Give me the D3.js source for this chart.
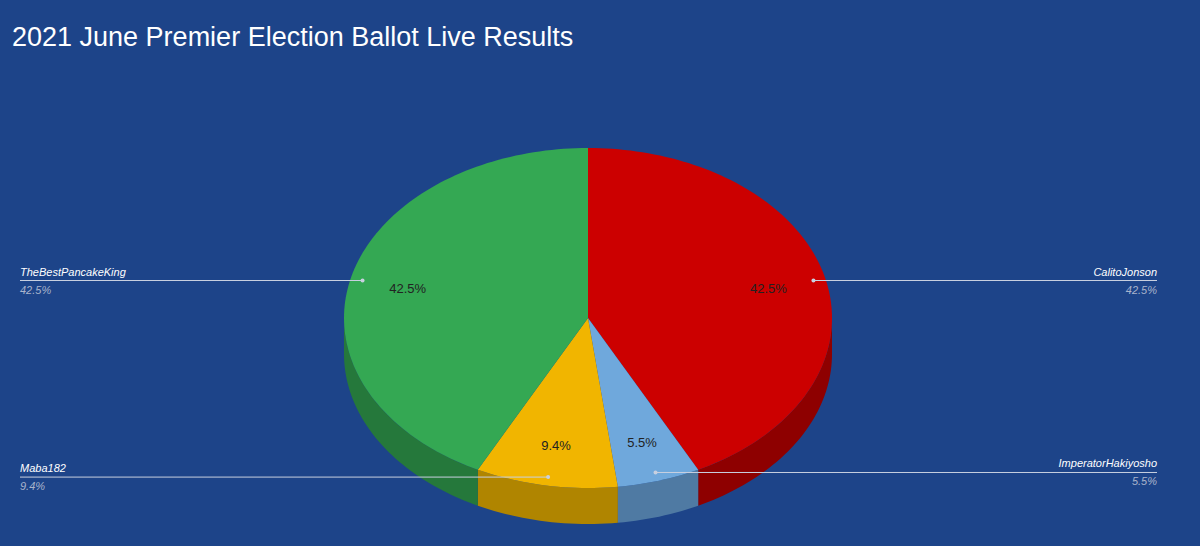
<!DOCTYPE html>
<html><head><meta charset="utf-8">
<script src="https://cdn.jsdelivr.net/npm/d3@7"></script>
<style>body{margin:0;background:#1d4489;}</style>
</head><body>
<svg width="1200" height="546"></svg>
<script>
var names = ["CalitoJonson", "ImperatorHakiyosho", "Maba182", "TheBestPancakeKing"];
var shares = [42.5, 5.5, 9.4, 42.5];
var topColors = ["#cc0000", "#6fa8dc", "#f1b500", "#34a853"];
var sideColors = ["#8e0000", "#4f7aa3", "#b08500", "#25783b"];
var labelSide = ["right", "right", "left", "left"];

var svg = d3.select("svg");
svg.append("rect").attr("width", 1200).attr("height", 546).attr("fill", "#1d4489");
svg.append("text").attr("x", 12).attr("y", 46).attr("fill", "#fff")
  .attr("font-family", "Liberation Sans, Arial").attr("font-size", 27)
  .text("2021 June Premier Election Ballot Live Results");

var cx = 588, cy = 318, rx = 244, ry = 170, depth = 36;
var pt = function(a, k, dy) {
  k = k || 1; dy = dy || 0;
  return [cx + rx * k * Math.sin(a), cy - ry * k * Math.cos(a) + dy];
};
var arcs = d3.pie().sort(null)(shares);

function arcPts(a0, a1, dy) {
  var n = Math.max(2, Math.ceil((a1 - a0) * 40)), out = [];
  for (var i = 0; i <= n; i++) out.push(pt(a0 + (a1 - a0) * i / n, 1, dy));
  return out;
}

// side walls (front half only)
arcs.forEach(function(d, i) {
  var a0 = Math.max(d.startAngle, Math.PI / 2), a1 = Math.min(d.endAngle, 3 * Math.PI / 2);
  if (a1 <= a0) return;
  var p = arcPts(a0, a1, 0).concat(arcPts(a0, a1, depth).reverse());
  svg.append("path").attr("d", d3.line()(p) + "Z").attr("fill", sideColors[i]);
});

// top
arcs.forEach(function(d, i) {
  var p = [[cx, cy]].concat(arcPts(d.startAngle, d.endAngle, 0));
  svg.append("path").attr("d", d3.line()(p) + "Z").attr("fill", topColors[i]);
});

// inner labels
arcs.forEach(function(d, i) {
  var m = (d.startAngle + d.endAngle) / 2, p = pt(m, 0.76);
  svg.append("text").attr("x", p[0]).attr("y", p[1] + 5).attr("text-anchor", "middle")
    .attr("font-family", "Liberation Sans, Arial").attr("font-size", 13).attr("fill", "#222")
    .text(shares[i].toFixed(1) + "%");
});

// leader labels
arcs.forEach(function(d, i) {
  var m = (d.startAngle + d.endAngle) / 2, p = pt(m, 0.95);
  var right = labelSide[i] == "right";
  var lx = right ? 1157 : 20;
  svg.append("line").attr("x1", p[0]).attr("y1", p[1]).attr("x2", lx).attr("y2", p[1])
    .attr("stroke", "#c8d0e0").attr("stroke-width", 1);
  svg.append("circle").attr("cx", p[0]).attr("cy", p[1]).attr("r", 2).attr("fill", "#c8d0e0");
  var g = svg.append("g").attr("font-family", "Liberation Sans, Arial").attr("font-size", 11)
    .attr("font-style", "italic").attr("text-anchor", right ? "end" : "start");
  g.append("text").attr("x", lx).attr("y", p[1] - 5).attr("fill", "#fff").text(names[i]);
  g.append("text").attr("x", lx).attr("y", p[1] + 13).attr("fill", "#a9b4cc").text(shares[i].toFixed(1) + "%");
});
</script>
</body></html>
